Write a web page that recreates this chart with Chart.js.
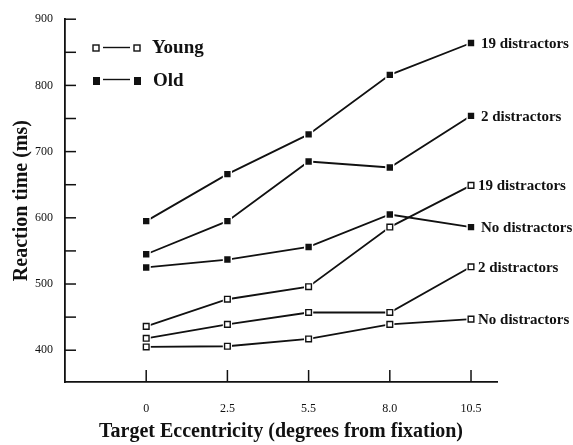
<!DOCTYPE html>
<html>
<head>
<meta charset="utf-8">
<script src="https://cdn.jsdelivr.net/npm/chart.js@4/dist/chart.umd.min.js"></script>
<style>
  html, body { margin: 0; padding: 0; background: #fff; }
  #wrap { width: 573px; height: 445px; }
</style>
</head>
<body>
<div id="wrap"><canvas id="myChart" width="573" height="445"></canvas></div>
<script>
var categories = ['0', '2.5', '5.5', '8.0', '10.5'];
var yTicks = [400, 450, 500, 550, 600, 650, 700, 750, 800, 850, 900];

var youngNo = [405, 406, 417, 439, 447];
var young2  = [418, 439, 457, 457, 526];
var young19 = [436, 477, 496, 586, 649];
var oldNo   = [525, 537, 556, 605, 586];
var old2    = [545, 595, 685, 676, 754];
var old19   = [595, 666, 726, 816, 864];

var series = [
  { name: 'No distractors', values: youngNo, group: 'young' },
  { name: '2 distractors',  values: young2,  group: 'young' },
  { name: '19 distractors', values: young19, group: 'young' },
  { name: 'No distractors', values: oldNo,   group: 'old' },
  { name: '2 distractors',  values: old2,    group: 'old' },
  { name: '19 distractors', values: old19,   group: 'old' }
];

var serif = '"Liberation Serif", "Times New Roman", serif';

function pts(values) {
  return values.map(function (v, i) { return { x: i, y: v }; });
}

// each series: line, white halo behind the marker, marker
var datasets = [];
series.forEach(function (s, k) {
  datasets.push({
    data: pts(s.values), borderColor: '#111', borderWidth: 1.8,
    pointRadius: 0, fill: false, tension: 0, order: 3
  });
  datasets.push({
    data: pts(s.values), showLine: false, pointStyle: 'rect',
    pointRadius: 6.5, pointBackgroundColor: '#fff', pointBorderWidth: 0, order: 2
  });
  datasets.push({
    label: 'm' + k, data: pts(s.values), showLine: false, pointStyle: 'rect',
    pointRadius: s.group === 'old' ? 4.5 : 4,
    pointBackgroundColor: s.group === 'old' ? '#111' : '#fff',
    pointBorderColor: '#111', pointBorderWidth: s.group === 'old' ? 0 : 1.4,
    order: 1
  });
});

var extras = {
  id: 'extras',
  afterDraw: function (chart) {
    var c = chart.ctx, a = chart.chartArea;
    var xs = chart.scales.x, ys = chart.scales.y;
    c.save();
    c.strokeStyle = '#111';
    c.lineWidth = 1.5;
    // inner tick marks
    yTicks.forEach(function (v) {
      var y = ys.getPixelForValue(v);
      c.beginPath(); c.moveTo(a.left, y); c.lineTo(a.left + 11, y); c.stroke();
    });
    categories.forEach(function (lab, i) {
      var x = xs.getPixelForValue(i);
      c.beginPath(); c.moveTo(x, a.bottom); c.lineTo(x, a.bottom - 12); c.stroke();
    });

    // legend
    c.fillStyle = '#111';
    c.font = 'bold 19px ' + serif;
    c.textBaseline = 'middle';
    c.textAlign = 'left';
    c.lineWidth = 1.4;
    c.strokeRect(93, 45, 6, 6);
    c.strokeRect(134, 45, 6, 6);
    c.beginPath(); c.moveTo(103, 47.5); c.lineTo(130, 47.5); c.stroke();
    c.fillText('Young', 152, 48);
    c.fillRect(93, 77, 7, 8);
    c.fillRect(134, 77, 7, 8);
    c.beginPath(); c.moveTo(103, 79.5); c.lineTo(130, 79.5); c.stroke();
    c.fillText('Old', 153, 81);

    // labels at the end of each curve
    c.font = 'bold 15px ' + serif;
    series.forEach(function (s, k) {
      var meta = chart.getDatasetMeta(k * 3 + 2);
      var p = meta.data[meta.data.length - 1];
      c.fillText(s.name, p.x + (s.group === 'old' ? 10 : 7), p.y + 1);
    });
    c.restore();
  }
};

var ctx = document.getElementById('myChart').getContext('2d');
var chart = new Chart(ctx, {
  type: 'line',
  data: { datasets: datasets },
  options: {
    responsive: false,
    animation: false,
    layout: { padding: { top: 17, right: 76, bottom: 0, left: 0 } },
    plugins: { legend: { display: false }, tooltip: { enabled: false } },
    scales: {
      x: {
        type: 'linear', min: -1, max: 4.32,
        afterBuildTicks: function (scale) {
          scale.ticks = categories.map(function (c, i) { return { value: i }; });
        },
        afterFit: function (scale) { scale.height = 63; },
        grid: { display: false, drawTicks: false },
        border: { display: true, color: '#111', width: 1.8 },
        ticks: {
          padding: 20, color: '#111', font: { family: serif, size: 12 },
          callback: function (v) { return categories[v]; }
        },
        title: {
          display: true, text: 'Target Eccentricity (degrees from fixation)',
          color: '#111', font: { family: serif, size: 20, weight: 'bold' },
          padding: { top: 0, bottom: 1 }
        }
      },
      y: {
        min: 352, max: 900,
        afterBuildTicks: function (scale) {
          scale.ticks = yTicks.map(function (v) { return { value: v }; });
        },
        afterFit: function (scale) { scale.width = 65; },
        grid: { display: false, drawTicks: false },
        border: { display: true, color: '#111', width: 1.8 },
        ticks: {
          padding: 12, color: '#111', font: { family: serif, size: 12 },
          callback: function (v) { return v % 100 === 0 ? v : ''; }
        },
        title: {
          display: true, text: 'Reaction time (ms)',
          color: '#111', font: { family: serif, size: 20, weight: 'bold' },
          padding: { top: 10, bottom: 0 }
        }
      }
    }
  },
  plugins: [extras]
});
</script>
</body>
</html>
